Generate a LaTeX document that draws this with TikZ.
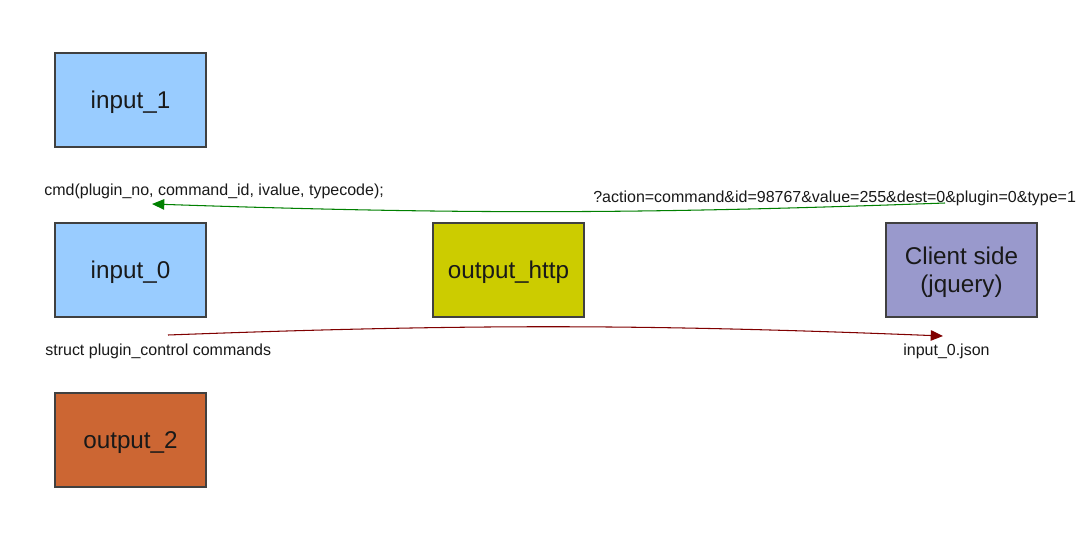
\documentclass[tikz,border=0pt]{standalone}
\usepackage{fontspec}
\setmainfont{Liberation Sans}
\usetikzlibrary{arrows.meta,positioning,calc}

\definecolor{inblue}{HTML}{99CCFF}
\definecolor{httpyellow}{HTML}{CCCC00}
\definecolor{outorange}{HTML}{CC6633}
\definecolor{clientviolet}{HTML}{9999CC}
\definecolor{reqgreen}{HTML}{008000}
\definecolor{resred}{HTML}{800000}

\tikzset{
  plugin/.style={draw=black!75,line width=0.6pt,minimum width=3.02cm,minimum height=1.88cm,
    align=center,font=\fontsize{13.8}{15.8}\selectfont,text=black!90,text depth=0pt},
  msg/.style={font=\fontsize{9.1}{11}\selectfont,text=black!90,inner sep=0pt},
}

\begin{document}
\begin{tikzpicture}[x=0.02cm,y=-0.02cm]
  \useasboundingbox[fill=white] (0,0) rectangle (1082,537); % 画像全体の大きさ
  \node[plugin,fill=inblue] (in1) at (130.5,100) {input\_1}; % 入力プラグイン1
  \node[plugin,fill=inblue] (in0) at (130.5,270) {input\_0}; % 入力プラグイン0
  \node[plugin,fill=outorange] (out2) at (130.5,440) {output\_2}; % 出力プラグイン2
  \node[plugin,fill=httpyellow] (http) at (508.5,270) {output\_http}; % HTTP出力
  \node[plugin,fill=clientviolet] (client) at (961.5,270) {Client side\\(jquery)}; % クライアント側
  \node[msg,anchor=west] (cmd) at (44,191) {cmd(plugin\_no, command\_id, ivalue, typecode);};
  \node[msg,anchor=west] (query) at (593,198) {?action=command\&id=98767\&value=255\&dest=0\&plugin=0\&type=1};
  \node[msg,anchor=west] (ctrl) at (45,351) {struct plugin\_control commands};
  \node[msg,anchor=west] (json) at (903,351) {input\_0.json};
  \coordinate (qend) at (945,203); % 要求の始点
  \coordinate (cmdend) at (152,204); % 要求の終点
  \coordinate (ctrlend) at (168,335); % 応答の始点
  \coordinate (jsonend) at (943,336); % 応答の終点
  \draw[reqgreen,line width=0.6pt,-{Triangle[length=7pt,width=6pt]}] (qend) to[bend left=2] (cmdend); % コマンド要求
  \draw[resred,line width=0.6pt,-{Triangle[length=7pt,width=6pt]}] (ctrlend) to[bend left=2.2] (jsonend); % JSON応答
\end{tikzpicture}
\end{document}
